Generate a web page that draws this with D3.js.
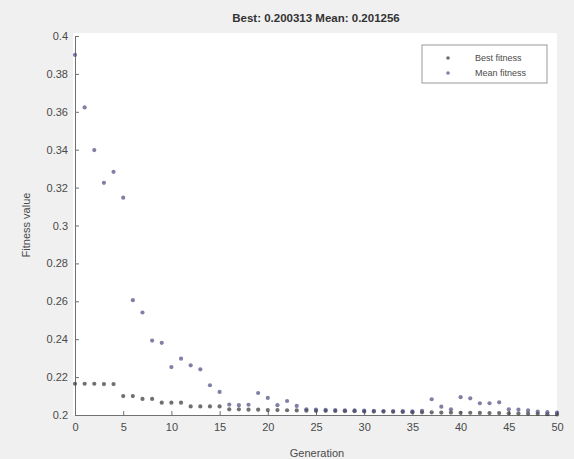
<!DOCTYPE html>
<html>
<head>
<meta charset="utf-8">
<script src="https://cdn.jsdelivr.net/npm/d3@7"></script>
<style>
  html, body { margin: 0; padding: 0; background: #f0f0f0; }
  svg { display: block; font-family: "Liberation Sans", Arial, Helvetica, sans-serif; }
</style>
</head>
<body>
<svg id="chart" width="574" height="459"></svg>
<script>
// ---- data ----
const generations = d3.range(0, 51);
const bestFitness = [0.2165,0.2165,0.2165,0.2163,0.2163,0.2100,0.2100,0.2085,0.2085,0.2065,
  0.2065,0.2065,0.2045,0.2045,0.2045,0.2045,0.2030,0.2030,0.2028,0.2028,
  0.2026,0.2026,0.2025,0.2024,0.2023,0.2022,0.2022,0.2021,0.2020,0.2020,
  0.2019,0.2018,0.2018,0.2017,0.2016,0.2015,0.2014,0.2014,0.2013,0.2013,
  0.2012,0.2012,0.2011,0.2010,0.2010,0.2009,0.2008,0.2007,0.2006,0.2004,0.200313];
const meanFitness = [0.3900,0.3623,0.3398,0.3225,0.3283,0.3147,0.2606,0.2541,0.2393,0.2381,
  0.2253,0.2297,0.2262,0.2241,0.2157,0.2122,0.2055,0.2052,0.2054,0.2116,
  0.2090,0.2052,0.2074,0.2048,0.2030,0.2028,0.2027,0.2026,0.2025,0.2024,
  0.2023,0.2022,0.2021,0.2021,0.2020,0.2019,0.2022,0.2083,0.2044,0.2030,
  0.2094,0.2088,0.2062,0.2062,0.2067,0.2030,0.2028,0.2024,0.2018,0.2015,0.201256];
const xTicks = [0,5,10,15,20,25,30,35,40,45,50];
const yTicks = [0.2,0.22,0.24,0.26,0.28,0.3,0.32,0.34,0.36,0.38,0.4];
const yTickLabels = ["0.2","0.22","0.24","0.26","0.28","0.3","0.32","0.34","0.36","0.38","0.4"];
const seriesNames = ["Best fitness", "Mean fitness"];
const titleText = "Best: 0.200313 Mean: 0.201256";

// ---- layout ----
(function () {
const svg = d3.select("#chart");
const mLeft = 75, mRight = 557, mTop = 36, mBottom = 415;
const x = d3.scaleLinear().domain([0, 50]).range([mLeft, mRight]);
const y = d3.scaleLinear().domain([0.2, 0.4]).range([mBottom, mTop]);
const textColor = "#4a4a4a";
const axisColor = "#707070";

svg.append("rect").attr("width", 574).attr("height", 459).attr("fill", "#f0f0f0");
svg.append("rect").attr("x", mLeft - 2).attr("y", 33)
  .attr("width", mRight - mLeft + 2).attr("height", mBottom - 33).attr("fill", "#ffffff");

// axes
const xAxis = svg.append("g").attr("transform", `translate(0,${mBottom})`)
  .call(d3.axisBottom(x).tickValues(xTicks).tickFormat(d3.format("d"))
    .tickSizeInner(-4).tickSizeOuter(0).tickPadding(8));
const yAxis = svg.append("g").attr("transform", `translate(${mLeft},0)`)
  .call(d3.axisLeft(y).tickValues(yTicks).tickFormat((d, i) => yTickLabels[i])
    .tickSizeInner(-4).tickSizeOuter(0).tickPadding(7));
[xAxis, yAxis].forEach(g => {
  g.select(".domain").attr("stroke", axisColor);
  g.selectAll(".tick line").attr("stroke", axisColor);
  g.selectAll(".tick text").attr("fill", textColor).style("font-size", "11px");
});

// points
const seriesColors = ["#333333", "#4a4a80"];
[bestFitness, meanFitness].forEach((vals, si) => {
  svg.append("g").selectAll("circle").data(vals).join("circle")
    .attr("cx", (d, i) => x(generations[i]))
    .attr("cy", d => y(d))
    .attr("r", 2.1)
    .attr("fill", seriesColors[si])
    .attr("opacity", 0.7);
});

// title & labels
svg.append("text").attr("x", 316).attr("y", 22).attr("text-anchor", "middle")
  .attr("font-weight", "bold").attr("font-size", "11.5px").attr("fill", "#333").text(titleText);
svg.append("text").attr("x", 317).attr("y", 457).attr("text-anchor", "middle")
  .attr("font-size", "11px").attr("fill", textColor).text("Generation");
svg.append("text").attr("transform", "translate(30,225) rotate(-90)").attr("text-anchor", "middle")
  .attr("font-size", "11px").attr("fill", textColor).text("Fitness value");

// legend
const lg = svg.append("g");
lg.append("rect").attr("x", 422).attr("y", 45).attr("width", 125).attr("height", 38)
  .attr("fill", "#fff").attr("stroke", "#999").attr("stroke-width", 1);
seriesNames.forEach((name, i) => {
  const ly = 58 + i * 15;
  lg.append("circle").attr("cx", 448).attr("cy", ly).attr("r", 1.8)
    .attr("fill", seriesColors[i]).attr("opacity", 0.7);
  lg.append("text").attr("x", 475).attr("y", ly + 3).attr("font-size", "9px")
    .attr("fill", textColor).text(name);
});
})();
</script>
</body>
</html>
